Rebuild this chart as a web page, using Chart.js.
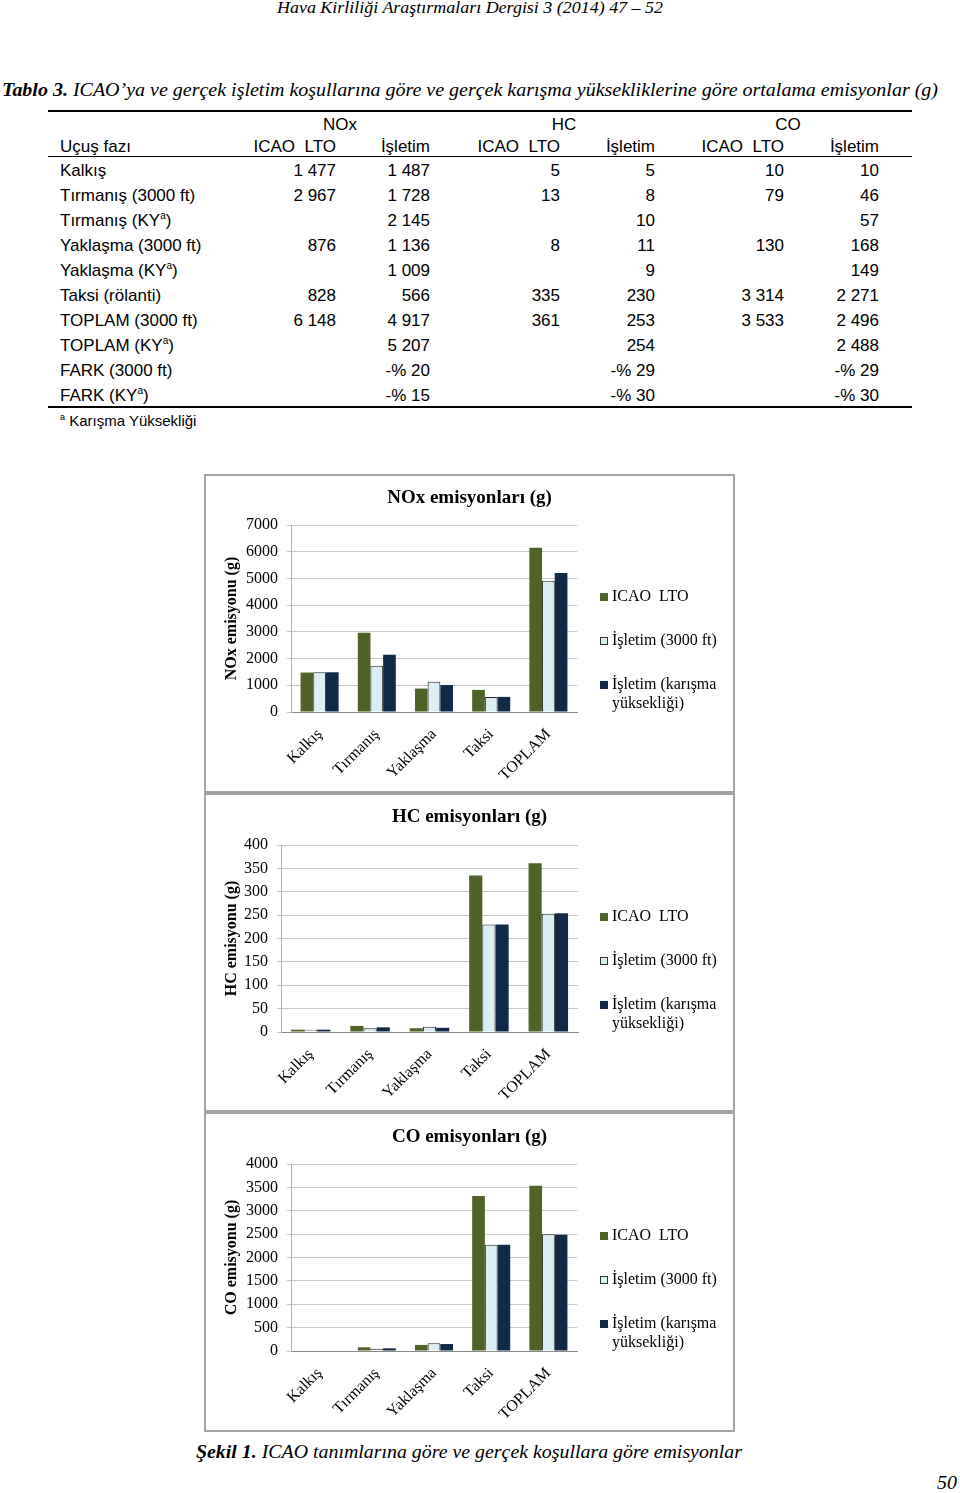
<!DOCTYPE html>
<html><head><meta charset="utf-8">
<script src="https://cdn.jsdelivr.net/npm/chart.js@4.4.1/dist/chart.umd.min.js"></script>
<style>
html,body{margin:0;padding:0;background:#fff;}
body{width:960px;height:1493px;position:relative;overflow:hidden;font-family:"Liberation Sans",Arial,sans-serif;color:#000;}
.abs{position:absolute;white-space:nowrap;}
.fit{display:inline-block;transform-origin:0 50%;}
.serif{font-family:"Liberation Serif","Times New Roman",serif;}
.t{position:absolute;white-space:nowrap;font-size:17px;line-height:20px;}
.r{text-align:right;}
.rule{position:absolute;left:48px;width:864px;background:#000;}
.frame{position:absolute;border:2px solid #a3a3a3;box-sizing:border-box;background:#fff;}
.frame canvas{position:absolute;left:0;top:0;}
.sup{font-size:10px;position:relative;top:-7px;}
</style></head><body>

<div class="abs fit serif" data-x="277" data-w="386" style="top:-1px;font-style:italic;font-size:16px;line-height:18px;">Hava Kirliliği Araştırmaları Dergisi 3 (2014) 47 – 52</div>
<div class="abs fit serif" data-x="2" data-w="936" style="top:79px;font-style:italic;font-size:19px;line-height:22px;"><b>Tablo 3.</b> ICAO’ya ve gerçek işletim koşullarına göre ve gerçek karışma yüksekliklerine göre ortalama emisyonlar (g)</div>

<div class="rule" style="top:110px;height:2px;"></div>
<div class="rule" style="top:156px;height:1px;"></div>
<div class="rule" style="top:406px;height:2px;"></div>
<div id="table"></div>

<div class="frame" id="f0"><canvas id="c0"></canvas></div>
<div class="frame" id="f1"><canvas id="c1"></canvas></div>
<div class="frame" id="f2"><canvas id="c2"></canvas></div>

<div class="abs fit serif" data-x="196" data-w="546" style="top:1441px;font-style:italic;font-size:19px;line-height:22px;"><b>Şekil 1.</b> ICAO tanımlarına göre ve gerçek koşullara göre emisyonlar</div>
<div class="abs fit serif" data-x="937" data-w="20" style="top:1472px;font-style:italic;font-size:19px;line-height:22px;">50</div>

<script>
// ---------- DATA ----------
const categories = ['Kalkış', 'Tırmanış', 'Yaklaşma', 'Taksi', 'TOPLAM'];
const seriesNames = ['ICAO  LTO', 'İşletim (3000 ft)', 'İşletim (karışma yüksekliği)'];
const legendLines = [['ICAO  LTO'], ['İşletim (3000 ft)'], ['İşletim (karışma', 'yüksekliği)']];

const noxIcao   = [1477, 2967, 876, 828, 6148];
const noxOp3000 = [1487, 1728, 1136, 566, 4917];
const noxOpKY   = [1487, 2145, 1009, 566, 5207];

const hcIcao    = [5, 13, 8, 335, 361];
const hcOp3000  = [5, 8, 11, 230, 253];
const hcOpKY    = [5, 10, 9, 230, 254];

const coIcao    = [10, 79, 130, 3314, 3533];
const coOp3000  = [10, 46, 168, 2271, 2496];
const coOpKY    = [10, 57, 149, 2271, 2488];

const noxTicks = [0, 7000, 1000];
const hcTicks  = [0, 400, 50];
const coTicks  = [0, 4000, 500];

// table
const tableGroups = ['NOx', 'HC', 'CO'];
const tableColHeads = ['ICAO  LTO', 'İşletim', 'ICAO  LTO', 'İşletim', 'ICAO  LTO', 'İşletim'];
const tableRowLabels = ['Kalkış', 'Tırmanış (3000 ft)', 'Tırmanış (KY^a)', 'Yaklaşma (3000 ft)', 'Yaklaşma (KY^a)',
  'Taksi (rölanti)', 'TOPLAM (3000 ft)', 'TOPLAM (KY^a)', 'FARK (3000 ft)', 'FARK (KY^a)'];
const tNoxIcao = ['1 477', '2 967', '', '876', '', '828', '6 148', '', '', ''];
const tNoxOp   = ['1 487', '1 728', '2 145', '1 136', '1 009', '566', '4 917', '5 207', '-% 20', '-% 15'];
const tHcIcao  = ['5', '13', '', '8', '', '335', '361', '', '', ''];
const tHcOp    = ['5', '8', '10', '11', '9', '230', '253', '254', '-% 29', '-% 30'];
const tCoIcao  = ['10', '79', '', '130', '', '3 314', '3 533', '', '', ''];
const tCoOp    = ['10', '46', '57', '168', '149', '2 271', '2 496', '2 488', '-% 29', '-% 30'];
const footnote = 'Karışma Yüksekliği';

// ---------- TABLE ----------
(function(){
  const host = document.getElementById('table');
  const colRight = [336, 430, 560, 655, 784, 879];
  const groupCenter = [340, 564, 788];
  const cols = [tNoxIcao, tNoxOp, tHcIcao, tHcOp, tCoIcao, tCoOp];
  let h = '';
  const sup = s => s.replace('^a', '<span class="sup">a</span>');
  tableGroups.forEach((g, i) => {
    h += `<div class="t" style="left:${groupCenter[i]-50}px;width:100px;text-align:center;top:115px;">${g}</div>`;
  });
  h += `<div class="t" style="left:60px;top:137px;">Uçuş fazı</div>`;
  tableColHeads.forEach((c, i) => {
    h += `<div class="t r" style="right:${960-colRight[i]}px;top:137px;white-space:pre;">${c}</div>`;
  });
  tableRowLabels.forEach((lab, r) => {
    const y = 161 + r * 25;
    h += `<div class="t" style="left:60px;top:${y}px;">${sup(lab)}</div>`;
    cols.forEach((col, c) => {
      if (col[r]) h += `<div class="t r" style="right:${960-colRight[c]}px;top:${y}px;">${col[r]}</div>`;
    });
  });
  h += `<div class="t" style="left:60px;top:411px;font-size:15px;"><span class="sup" style="font-size:9px;top:-6px;">a</span> ${footnote}</div>`;
  host.innerHTML = h;
})();

// fit text widths
document.querySelectorAll('.fit').forEach(el => {
  el.style.left = el.dataset.x + 'px';
  const w = el.getBoundingClientRect().width;
  el.style.transform = `scaleX(${(+el.dataset.w) / w})`;
});

// ---------- CHARTS ----------
Chart.defaults.font.family = '"Liberation Serif", "Times New Roman", serif';
Chart.defaults.color = '#000';

const colors = ['#4F6228', '#DBEEF4', '#112A47'];

const sideLegend = {
  id: 'sideLegend',
  afterDraw(chart, args, opts) {
    const {ctx, chartArea} = chart;
    ctx.save();
    ctx.font = '16px "Liberation Serif"';
    ctx.textBaseline = 'middle';
    ctx.textAlign = 'left';
    chart.data.datasets.forEach((ds, i) => {
      const bx = Math.round(chartArea.right + opts.dx);
      const cy = Math.round(chartArea.top + opts.dy[i]);
      ctx.fillStyle = ds.backgroundColor;
      ctx.fillRect(bx, cy - 4, 8, 8);
      if (ds.borderWidth) {
        ctx.strokeStyle = '#333';
        ctx.lineWidth = 1;
        ctx.strokeRect(bx + 0.5, cy - 3.5, 7, 7);
      }
      ctx.fillStyle = '#000';
      legendLines[i].forEach((t, j) => ctx.fillText(t, bx + 12, cy + j * opts.lh));
    });
    ctx.restore();
  }
};

// reserves room on the right of the plot (for the legend) as a layout box
function makeSpacer(width) {
  return {
    id: 'rightSpacer',
    beforeInit(chart) {
      const box = {
        position: 'right', weight: 10, fullSize: false,
        options: {},
        width: 0, height: 0, left: 0, top: 0, right: 0, bottom: 0,
        update(maxWidth, maxHeight) { this.width = width; this.height = maxHeight; },
        isHorizontal() { return false; },
        getPadding() { return {left: 0, top: 0, right: 0, bottom: 0}; },
        draw() {}
      };
      Chart.layouts.addBox(chart, box);
    }
  };
}

function makeChart(idx, title, yTitle, series, ticks, g) {
  const frame = document.getElementById('f' + idx);
  frame.style.left = g.fx + 'px';
  frame.style.top = g.fy + 'px';
  frame.style.width = g.fw + 'px';
  frame.style.height = g.fh + 'px';
  const cl = g.fx + 2, ct = g.fy + 2, cw = g.fw - 4, ch = g.fh - 4;
  const cv = document.getElementById('c' + idx);
  cv.width = cw; cv.height = ch;
  cv.style.width = cw + 'px'; cv.style.height = ch + 'px';

  const titleLH = 19 * 1.2;
  new Chart(cv, {
    type: 'bar',
    data: {
      labels: categories,
      datasets: series.map((d, i) => ({
        label: seriesNames[i],
        data: d,
        backgroundColor: colors[i],
        borderColor: i === 1 ? '#222' : colors[i],
        borderWidth: i === 1 ? 1 : 0,
        barPercentage: 1,
        categoryPercentage: 0.665
      }))
    },
    options: {
      responsive: false,
      animation: false,
      devicePixelRatio: 1,
      layout: { padding: 0 },
      plugins: {
        legend: { display: false },
        tooltip: { enabled: false },
        title: {
          display: true, text: title,
          font: { size: 19, weight: 'bold' },
          color: '#000',
          padding: { top: g.ty - ct - titleLH / 2, bottom: g.pt - g.ty - titleLH / 2 }
        },
        sideLegend: { dx: g.lx - g.pr, dy: [72, 116, 160], lh: 18.5 }
      },
      scales: {
        x: {
          grid: { display: false, drawTicks: false },
          border: { display: true, color: '#8a8a8a', width: 1 },
          ticks: { font: { size: 16 }, color: '#000', minRotation: 45, maxRotation: 45, padding: 13, autoSkip: false },
          afterFit: s => { s.height = ch - (g.pb - ct); }
        },
        y: {
          min: ticks[0], max: ticks[1],
          grid: { color: '#c6c6c6', lineWidth: 1, drawTicks: true, tickLength: 4 },
          border: { display: true, color: '#b0b0b0', width: 1 },
          ticks: { stepSize: ticks[2], font: { size: 16 }, color: '#000', padding: 9, callback: v => String(v) },
          title: {
            display: true, text: yTitle, color: '#000',
            font: { size: 16, weight: 'bold' },
            padding: { top: g.yx - cl - 9.6, bottom: 0 }
          },
          afterFit: s => { s.width = g.pl - cl; }
        }
      }
    },
    plugins: [sideLegend, makeSpacer(cw - (g.pr - cl))]
  });
}

makeChart(0, 'NOx emisyonları (g)', 'NOx emisyonu (g)', [noxIcao, noxOp3000, noxOpKY], noxTicks,
  { fx: 204, fy: 474, fw: 531, fh: 319, pl: 291, pr: 577, pt: 525, pb: 712, ty: 498, yx: 232, lx: 600 });
makeChart(1, 'HC emisyonları (g)', 'HC emisyonu (g)', [hcIcao, hcOp3000, hcOpKY], hcTicks,
  { fx: 204, fy: 793, fw: 531, fh: 319, pl: 281, pr: 578, pt: 845, pb: 1032, ty: 817, yx: 232, lx: 600 });
makeChart(2, 'CO emisyonları (g)', 'CO emisyonu (g)', [coIcao, coOp3000, coOpKY], coTicks,
  { fx: 204, fy: 1112, fw: 531, fh: 320, pl: 291, pr: 577, pt: 1164, pb: 1351, ty: 1137, yx: 232, lx: 600 });
</script>
</body></html>
